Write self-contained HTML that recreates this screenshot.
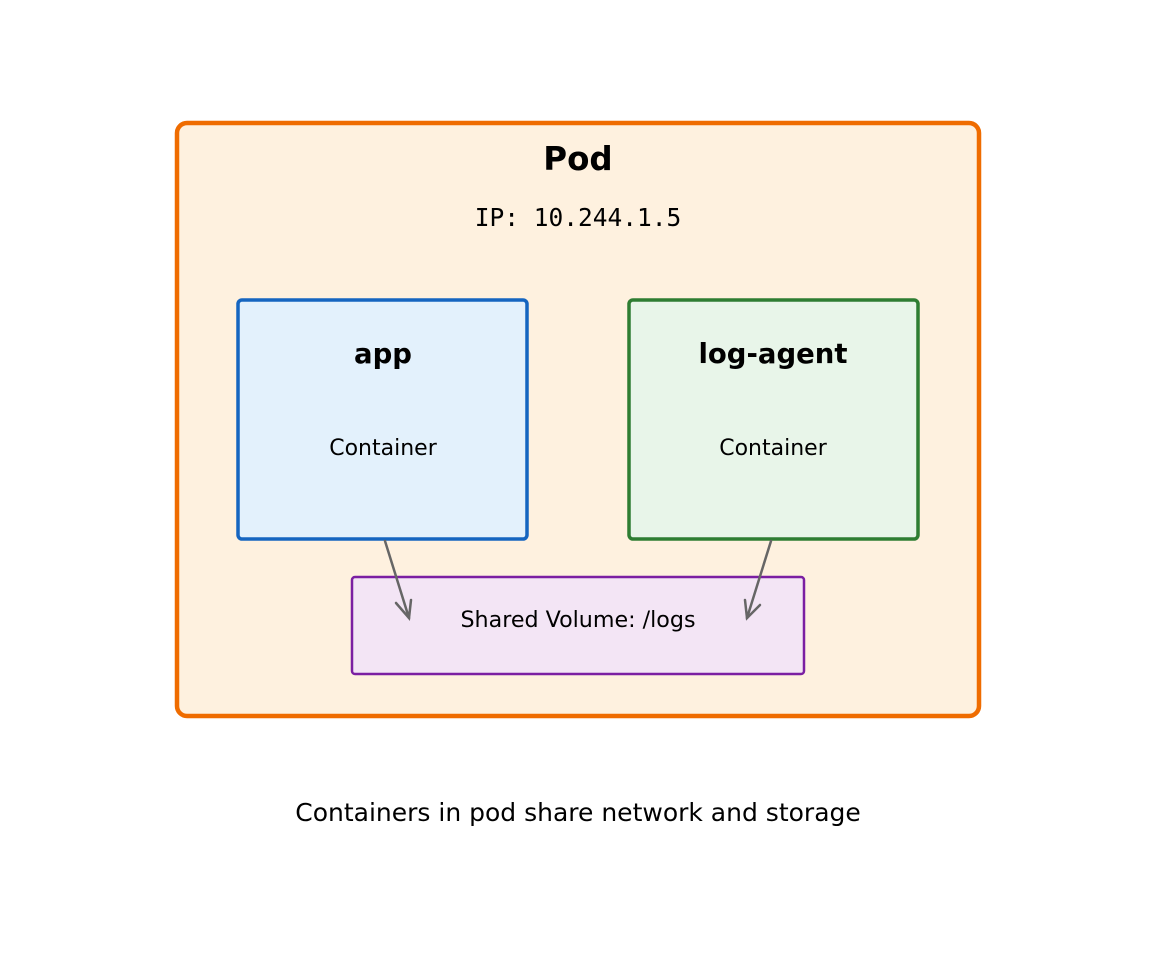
<!DOCTYPE html>
<html><head><meta charset="utf-8"><style>html,body{margin:0;padding:0;background:#fff}</style></head>
<body>
<svg width="1155" height="955" viewBox="0 0 1155 955" xmlns="http://www.w3.org/2000/svg" font-family="DejaVu Sans, Liberation Sans, sans-serif">
<rect x="177" y="123" width="802" height="593" rx="10" fill="#FEF1DF" stroke="#EF6C00" stroke-width="4.5"/>
<text x="578" y="170" font-size="32.5" font-weight="bold" text-anchor="middle">Pod</text>
<text x="578" y="226" font-size="24.5" font-family="DejaVu Sans Mono, Liberation Mono, monospace" text-anchor="middle">IP: 10.244.1.5</text>
<rect x="238" y="300" width="289" height="239" rx="4" fill="#E3F1FC" stroke="#1565C0" stroke-width="3.5"/>
<text x="383" y="363" font-size="27.5" font-weight="bold" text-anchor="middle">app</text>
<text x="383" y="455" font-size="22" text-anchor="middle">Container</text>
<rect x="629" y="300" width="289" height="239" rx="4" fill="#E8F5E9" stroke="#2E7D32" stroke-width="3.5"/>
<text x="773" y="363" font-size="27.5" font-weight="bold" text-anchor="middle">log-agent</text>
<text x="773" y="455" font-size="22" text-anchor="middle">Container</text>
<rect x="352" y="577" width="452" height="97" rx="3" fill="#F3E5F5" stroke="#7B1FA2" stroke-width="2.5"/>
<text x="578" y="627" font-size="22.2" text-anchor="middle">Shared Volume: /logs</text>
<g stroke="#666" stroke-width="2.5" fill="none" stroke-linecap="round">
<line x1="385" y1="541" x2="409" y2="618"/>
<polyline points="396,603 409,618 411,600"/>
<line x1="771" y1="541" x2="747" y2="618"/>
<polyline points="745,600 747,618 760,605"/>
</g>
<text x="578" y="821" font-size="25" text-anchor="middle">Containers in pod share network and storage</text>
</svg>
</body></html>
